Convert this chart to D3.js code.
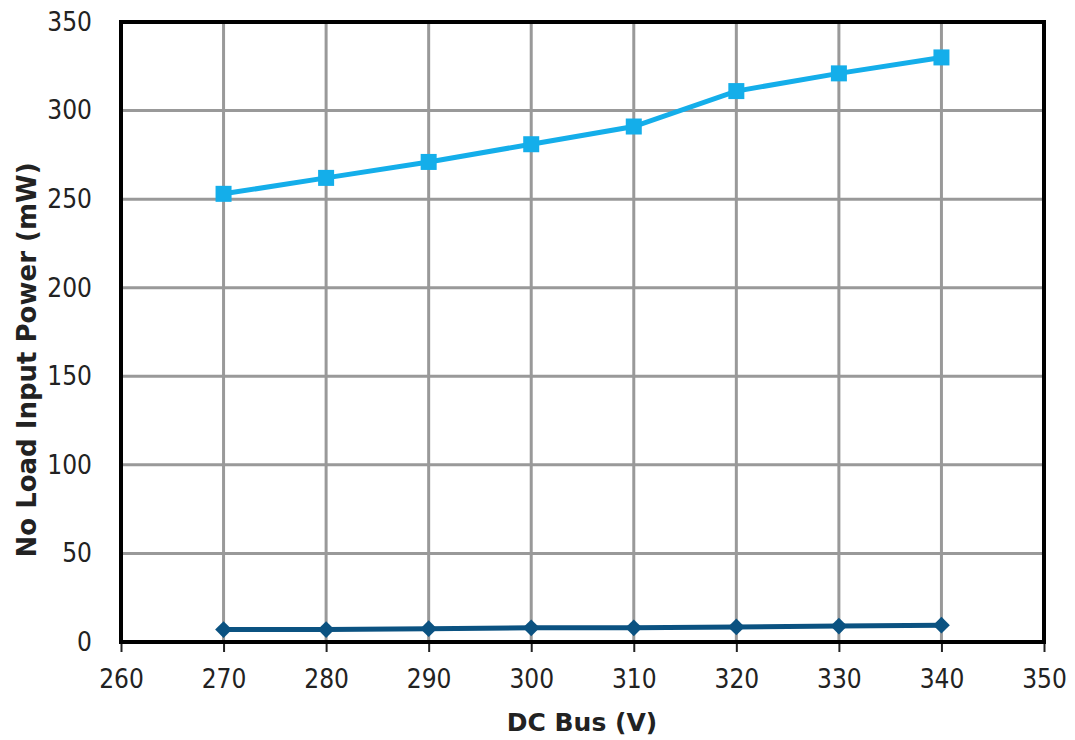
<!DOCTYPE html>
<meta charset="utf-8">
<style>
body { margin: 0; background: #fff; }
text { font-family: "DejaVu Sans", Verdana, sans-serif; fill: #222; }
.grid line { stroke: #999; stroke-width: 3; }
</style>
<svg width="1075" height="740"></svg>
<script src="https://d3js.org/d3.v7.min.js"></script>
<script>

// data
var dcBus = [270, 280, 290, 300, 310, 320, 330, 340];
var powerUpper = [253, 262, 271, 281, 291, 311, 321, 330];
var powerLower = [7, 7, 7.5, 8, 8, 8.5, 9, 9.5];
var xTicks = [260, 270, 280, 290, 300, 310, 320, 330, 340, 350];
var yTicks = [0, 50, 100, 150, 200, 250, 300, 350];

var svg = d3.select("svg"),
    margin = {top: 22, right: 31, bottom: 98, left: 121},
    width = 1075 - margin.left - margin.right,
    height = 740 - margin.top - margin.bottom;

var g = svg.append("g").attr("transform", "translate(" + margin.left + "," + margin.top + ")");

var x = d3.scaleLinear().domain([260, 350]).range([0, width]);
var y = d3.scaleLinear().domain([0, 350]).range([height, 0]);

// grid
g.append("g").attr("class", "grid")
  .selectAll("line").data(xTicks.slice(1, -1)).enter().append("line")
    .attr("x1", d => x(d)).attr("x2", d => x(d))
    .attr("y1", 0).attr("y2", height);
g.append("g").attr("class", "grid")
  .selectAll("line").data(yTicks.slice(1, -1)).enter().append("line")
    .attr("y1", d => y(d)).attr("y2", d => y(d))
    .attr("x1", 0).attr("x2", width);

// x ticks + labels
var xAxis = d3.axisBottom(x).tickValues(xTicks).tickSize(10).tickPadding(18).tickFormat(d3.format("d"));
var gx = g.append("g").attr("transform", "translate(0," + height + ")").call(xAxis);
gx.select(".domain").remove();
gx.selectAll("line").attr("stroke", "#222").attr("stroke-width", 2);
gx.selectAll("text").style("font-size", "26px").style("font-family", "'DejaVu Sans Condensed', 'DejaVu Sans', sans-serif").attr("fill", "#222");

var yAxis = d3.axisLeft(y).tickValues(yTicks).tickSize(0).tickPadding(29).tickFormat(d3.format("d"));
var gy = g.append("g").call(yAxis);
gy.select(".domain").remove();
gy.selectAll("text").style("font-size", "26px").style("font-family", "'DejaVu Sans Condensed', 'DejaVu Sans', sans-serif").attr("fill", "#222");

// frame
g.append("rect").attr("width", width).attr("height", height)
  .attr("fill", "none").attr("stroke", "#000").attr("stroke-width", 4);

var line = d3.line().x((d, i) => x(dcBus[i])).y(d => y(d));

// lower series (diamonds)
g.append("path").datum(powerLower).attr("d", line)
  .attr("fill", "none").attr("stroke", "#0b5281").attr("stroke-width", 5);
g.selectAll(".dia").data(powerLower).enter().append("path")
  .attr("d", d3.symbol().type(d3.symbolDiamond2).size(180))
  .attr("transform", (d, i) => "translate(" + x(dcBus[i]) + "," + y(d) + ")")
  .attr("fill", "#0b5281");

// upper series (squares)
g.append("path").datum(powerUpper).attr("d", line)
  .attr("fill", "none").attr("stroke", "#14aeea").attr("stroke-width", 5);
g.selectAll(".sq").data(powerUpper).enter().append("rect")
  .attr("x", (d, i) => x(dcBus[i]) - 8).attr("y", d => y(d) - 8)
  .attr("width", 16).attr("height", 16)
  .attr("fill", "#14aeea");

// axis titles
svg.append("text")
  .attr("x", 582).attr("y", 731)
  .attr("text-anchor", "middle")
  .style("font-size", "25px").style("font-weight", "bold")
  .text("DC Bus (V)");

svg.append("text")
  .attr("transform", "translate(36,360) rotate(-90)")
  .attr("text-anchor", "middle")
  .style("font-size", "26px").style("font-weight", "bold")
  .text("No Load Input Power (mW)");

</script>
